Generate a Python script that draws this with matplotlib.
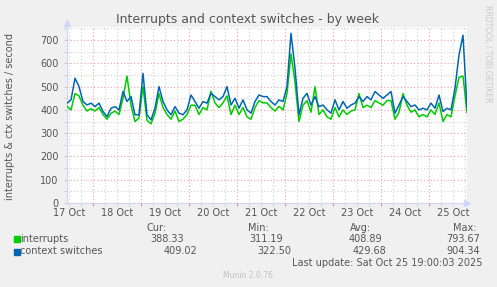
import numpy as np
import matplotlib
matplotlib.use("Agg")
import matplotlib.pyplot as plt
from matplotlib.ticker import MultipleLocator

# hours after Oct 17 11:00, one sample every 2 hours up to Oct 25 19:00
hours = np.arange(0, 201, 2)

ctx_switches = [429, 443, 536, 500, 436, 421, 429, 414, 429, 393,
                371, 407, 414, 400, 479, 436, 457, 379, 379, 557,
                379, 357, 407, 500, 436, 400, 379, 414, 386, 379,
                400, 464, 436, 407, 436, 429, 471, 457, 443, 457,
                500, 421, 450, 407, 443, 400, 386, 436, 464, 457,
                457, 436, 421, 443, 436, 500, 729, 579, 379, 450,
                471, 421, 457, 414, 421, 400, 386, 443, 400, 436,
                407, 421, 429, 457, 436, 457, 443, 479, 464, 450,
                464, 479, 386, 421, 457, 436, 414, 421, 400, 407,
                400, 429, 407, 464, 393, 407, 400, 493, 636, 721,
                409]
interrupts = [415, 400, 470, 460, 420, 395, 405, 395, 410, 380,
              360, 385, 395, 380, 450, 545, 420, 350, 365, 500,
              355, 340, 385, 470, 410, 380, 360, 395, 350, 360,
              380, 420, 420, 380, 410, 400, 480, 430, 410, 430,
              460, 380, 420, 380, 410, 370, 360, 410, 440, 430,
              430, 410, 395, 415, 400, 470, 640, 520, 350, 420,
              440, 390, 500, 380, 400, 370, 360, 410, 370, 400,
              380, 395, 400, 470, 410, 420, 410, 440, 430, 420,
              440, 440, 360, 390, 470, 420, 390, 400, 370, 380,
              370, 400, 380, 430, 350, 380, 370, 460, 540, 545,
              388]

day_labels = ["17 Oct", "18 Oct", "19 Oct", "20 Oct", "21 Oct",
              "22 Oct", "23 Oct", "24 Oct", "25 Oct"]
noon_hours = [1, 25, 49, 73, 97, 121, 145, 169, 193]

legend_names = ["interrupts", "context switches"]
cur_vals = ["388.33", "409.02"]
min_vals = ["311.19", "322.50"]
avg_vals = ["408.89", "429.68"]
max_vals = ["793.67", "904.34"]

W, H = 497, 287
bg = "#f0f0f0"
green = "#00cc00"
blue = "#0066b3"
axis_col = "#cfd6f8"
txt = "#555555"

fig = plt.figure(figsize=(W / 100, H / 100), dpi=100, facecolor=bg)
ax = fig.add_axes([67 / W, 1 - 203 / H, 400 / W, 176 / H])
ax.set_facecolor("white")

ax.plot(hours, interrupts, color=green, lw=1.1, zorder=3)
ax.plot(hours, ctx_switches, color=blue, lw=1.1, zorder=4)

ax.set_xlim(0, 200)
ax.set_ylim(0, 756)

# grid: gray every 50 / 6h, red every 100 / midnight
ax.yaxis.set_major_locator(MultipleLocator(100))
ax.yaxis.set_minor_locator(MultipleLocator(50))
ax.set_xticks(np.arange(13, 200, 24))
ax.set_xticks(np.arange(1, 200, 6), minor=True)
ax.grid(which="minor", color="#d0d0d0", ls=(0, (1, 2)), lw=0.8)
ax.grid(which="major", color="#f0a0a0", ls=(0, (1, 2)), lw=0.8)
ax.set_axisbelow(True)
ax.set_xticklabels([])
ax.tick_params(axis="x", which="major", length=2, color="#f08080")
ax.tick_params(axis="x", which="minor", length=2, color="#cccccc")
ax.tick_params(axis="y", which="both", length=2, color="#cccccc",
               labelsize=7, labelcolor=txt, pad=4)

for h, lab in zip(noon_hours, day_labels):
    ax.text(h, -22, lab, ha="center", va="top", fontsize=7, color=txt)

for s in ["top", "right"]:
    ax.spines[s].set_visible(False)
for s in ["left", "bottom"]:
    ax.spines[s].set_color(axis_col)
ax.plot([1.0], [0], marker=">", color=axis_col, ms=4, transform=ax.transAxes,
        clip_on=False)
ax.plot([0], [1.02], marker="^", color=axis_col, ms=4, transform=ax.transAxes,
        clip_on=False)

fig.text(248 / W, 1 - 19 / H, "Interrupts and context switches - by week",
         ha="center", va="center", fontsize=9, color=txt)
fig.text(10 / W, 1 - 117 / H, "interrupts & ctx switches / second",
         rotation=90, ha="center", va="center", fontsize=7, color=txt)
fig.text(488 / W, 1 - 5 / H, "RRDTOOL / TOBI OETIKER", rotation=270,
         ha="center", va="top", fontsize=5.5, color="#c8c8c8")

# legend block
fs = 7
for x, lab in [(167, "Cur:"), (269, "Min:"), (371, "Avg:"), (477, "Max:")]:
    fig.text(x / W, 1 - 228 / H, lab, ha="right", va="center", fontsize=fs,
             color=txt)
rows = [(239, green, 184, 283, 382, 480), (251.5, blue, 197, 291, 386, 480)]
for i, (y, c, xc, xm, xa, xx) in enumerate(rows):
    fig.patches.append(plt.Rectangle((14 / W, 1 - (y + 3) / H), 5.5 / W, 6 / H,
                                     transform=fig.transFigure, color=c))
    fig.text(20.5 / W, 1 - y / H, legend_names[i], ha="left", va="center",
             fontsize=fs, color=txt)
    fig.text(xc / W, 1 - y / H, cur_vals[i], ha="right", va="center", fontsize=fs, color=txt)
    fig.text(xm / W, 1 - y / H, min_vals[i], ha="right", va="center", fontsize=fs, color=txt)
    fig.text(xa / W, 1 - y / H, avg_vals[i], ha="right", va="center", fontsize=fs, color=txt)
    fig.text(xx / W, 1 - y / H, max_vals[i], ha="right", va="center", fontsize=fs, color=txt)

fig.text(482 / W, 1 - 263.5 / H, "Last update: Sat Oct 25 19:00:03 2025",
         ha="right", va="center", fontsize=fs, color=txt)
fig.text(248 / W, 1 - 276 / H, "Munin 2.0.76", ha="center", va="center",
         fontsize=5.5, color="#c0c0c0")

fig.savefig("out.png", dpi=100, facecolor=bg)
